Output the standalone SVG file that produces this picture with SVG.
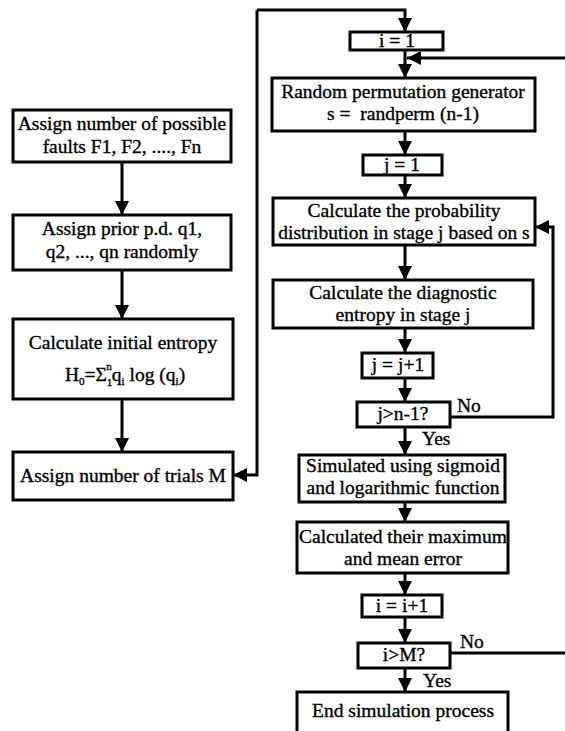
<svg xmlns="http://www.w3.org/2000/svg" width="565" height="731" viewBox="0 0 565 731">
<defs>
<marker id="ah" markerUnits="userSpaceOnUse" markerWidth="14" markerHeight="14" refX="14" refY="7" orient="auto" viewBox="0 0 14 14">
<path d="M0,0 L14,7 L0,14 Z" fill="#000"/>
</marker>
<style>
.b{fill:#fff;stroke:#000;stroke-width:3}
.t{font-family:"Liberation Serif","Times New Roman",serif;font-size:19.5px;fill:#000;stroke:#000;stroke-width:0.35;text-anchor:middle}
.l{text-anchor:start}
.c{fill:none;stroke:#000;stroke-width:3}
.s{font-size:11px}
</style>
</defs>
<rect width="565" height="731" fill="#fff"/>
<g id="connectors">
<path class="c" d="M122,162 V215" marker-end="url(#ah)"/>
<path class="c" d="M122,270 V319" marker-end="url(#ah)"/>
<path class="c" d="M122,399 V452" marker-end="url(#ah)"/>
<path class="c" d="M257,10 V475 H233" marker-end="url(#ah)"/>
<path class="c" d="M257,10 H405 V32" marker-end="url(#ah)"/>
<path class="c" d="M405,50 V78" marker-end="url(#ah)"/>
<path class="c" d="M565,58 H407" marker-end="url(#ah)"/>
<path class="c" d="M405,131 V155" marker-end="url(#ah)"/>
<path class="c" d="M405,175 V198" marker-end="url(#ah)"/>
<path class="c" d="M405,245 V280" marker-end="url(#ah)"/>
<path class="c" d="M405,328 V353" marker-end="url(#ah)"/>
<path class="c" d="M405,378 V402" marker-end="url(#ah)"/>
<path class="c" d="M450,417 H553 V227 H535" marker-end="url(#ah)"/>
<path class="c" d="M405,427 V455" marker-end="url(#ah)"/>
<path class="c" d="M405,502 V522" marker-end="url(#ah)"/>
<path class="c" d="M405,573 V595" marker-end="url(#ah)"/>
<path class="c" d="M405,617 V643" marker-end="url(#ah)"/>
<path class="c" d="M450,653 H565"/>
<path class="c" d="M405,668 V692" marker-end="url(#ah)"/>
<text class="t l" x="457" y="412">No</text>
<text class="t l" x="422" y="445">Yes</text>
<text class="t l" x="460" y="648">No</text>
<text class="t l" x="423" y="687">Yes</text>
</g>
<g id="n1"><rect class="b" x="13" y="110" width="218" height="52"/>
<text class="t" x="122" y="130">Assign number of possible</text>
<text class="t" x="122" y="153">faults F1, F2, ...., Fn</text></g>
<g id="n2"><rect class="b" x="13" y="215" width="218" height="55"/>
<text class="t" x="122" y="235">Assign prior p.d. q1,</text>
<text class="t" x="122" y="258">q2, ..., qn randomly</text></g>
<g id="n3"><rect class="b" x="13" y="319" width="220" height="80"/>
<text class="t" x="123" y="349">Calculate initial entropy</text>
<text class="t" x="125" y="381">H<tspan class="s" dy="4">0</tspan><tspan dy="-4">=Σ</tspan><tspan class="s" dy="5">1</tspan><tspan class="s" dx="-6" dy="-16">n</tspan><tspan dy="11">q</tspan><tspan class="s" dy="4">i</tspan><tspan dy="-4"> log (q</tspan><tspan class="s" dy="4">i</tspan><tspan dy="-4">)</tspan></text></g>
<g id="n4"><rect class="b" x="13" y="452" width="220" height="48"/>
<text class="t" x="123" y="482">Assign number of trials M</text></g>
<g id="n5"><rect class="b" x="350" y="32" width="93" height="18"/>
<text class="t" x="397" y="47">i = 1</text></g>
<g id="n6"><rect class="b" x="272" y="78" width="263" height="53"/>
<text class="t" x="403" y="98">Random permutation generator</text>
<text class="t" x="403" y="120" style="white-space:pre">s =  randperm (n-1)</text></g>
<g id="n7"><rect class="b" x="363" y="155" width="79" height="20"/>
<text class="t" x="402" y="171">j = 1</text></g>
<g id="n8"><rect class="b" x="273" y="198" width="262" height="47"/>
<text class="t" x="404" y="217">Calculate the probability</text>
<text class="t" x="404" y="239">distribution in stage j based on s</text></g>
<g id="n9"><rect class="b" x="273" y="280" width="260" height="48"/>
<text class="t" x="403" y="299">Calculate the diagnostic</text>
<text class="t" x="403" y="321">entropy in stage j</text></g>
<g id="n10"><rect class="b" x="362" y="353" width="71" height="25"/>
<text class="t" x="398" y="371">j = j+1</text></g>
<g id="n11"><rect class="b" x="357" y="402" width="93" height="25"/>
<text class="t" x="403" y="420">j&gt;n-1?</text></g>
<g id="n12"><rect class="b" x="299" y="455" width="206" height="47"/>
<text class="t" x="403" y="472">Simulated using sigmoid</text>
<text class="t" x="403" y="494">and logarithmic function</text></g>
<g id="n13"><rect class="b" x="297" y="522" width="211" height="51"/>
<text class="t" x="403" y="543">Calculated their maximum</text>
<text class="t" x="403" y="565">and mean error</text></g>
<g id="n14"><rect class="b" x="362" y="595" width="80" height="22"/>
<text class="t" x="402" y="612">i = i+1</text></g>
<g id="n15"><rect class="b" x="358" y="643" width="92" height="25"/>
<text class="t" x="404" y="661">i&gt;M?</text></g>
<g id="n16"><rect class="b" x="297" y="692" width="211" height="50"/>
<text class="t" x="403" y="717">End simulation process</text></g>
</svg>
